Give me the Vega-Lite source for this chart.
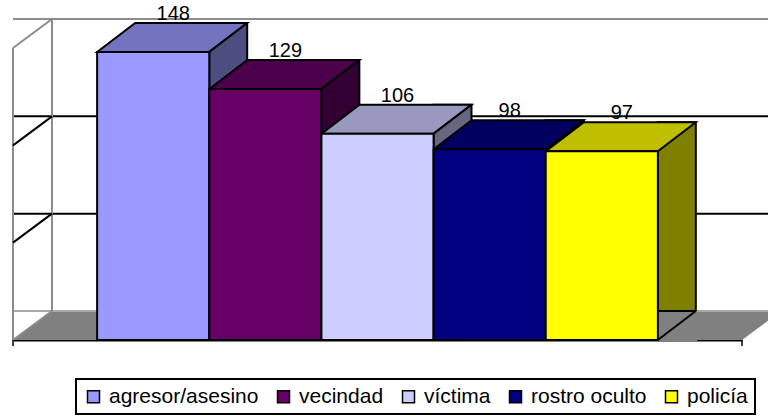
{
  "$schema": "https://vega.github.io/schema/vega-lite/v6.json",
  "width": 729,
  "height": 292,
  "autosize": {"type": "none"},
  "padding": {"left": 13, "top": 48, "right": 26, "bottom": 76},
  "background": "white",
  "config": {"view": {"stroke": null}, "font": "Liberation Sans", "legend": {"strokeWidth": 2}},
  "datasets": {
    "barras": [
      {"categoria": "agresor/asesino", "valor": 148},
      {"categoria": "vecindad", "valor": 129},
      {"categoria": "víctima", "valor": 106},
      {"categoria": "rostro oculto", "valor": 98},
      {"categoria": "policía", "valor": 97}
    ],
    "suelo": [{"v": 0}],
    "techo": [{"v": 150}],
    "bordes": [{"v": 0}, {"v": 150}],
    "rejilla": [{"v": 50}, {"v": 100}],
    "esquinas": [{"desde": 0, "hasta": 150}]
  },
  "resolve": {"scale": {"fill": "independent"}},
  "layer": [
    {
      "data": {"name": "suelo"},
      "mark": {"type": "point", "shape": "M0,0L39,-29L768,-29L729,0Z", "size": 4, "filled": true, "fill": "#808080", "strokeWidth": 0, "opacity": 1},
      "encoding": {
        "x": {"datum": "agresor/asesino", "type": "nominal", "bandPosition": -0.75,
              "scale": {"type": "band", "domain": ["agresor/asesino", "vecindad", "víctima", "rostro oculto", "policía"], "paddingInner": 0, "paddingOuter": 0.75},
              "axis": {"labels": false, "ticks": false, "title": null, "domainColor": "black", "domainWidth": 2}},
        "y": {"field": "v", "type": "quantitative", "scale": {"domain": [0, 150], "nice": false, "zero": true}, "axis": null}
      }
    },
    {
      "data": {"name": "suelo"},
      "mark": {"type": "rule", "color": "#A8A8A8", "strokeWidth": 2, "xOffset": 39, "x2Offset": 39, "yOffset": -29},
      "encoding": {"y": {"field": "v", "type": "quantitative"}}
    },
    {
      "data": {"name": "techo"},
      "mark": {"type": "rule", "color": "#8C8C8C", "strokeWidth": 2, "xOffset": 39, "x2Offset": 39, "yOffset": -29},
      "encoding": {"y": {"field": "v", "type": "quantitative"}}
    },
    {
      "data": {"name": "rejilla"},
      "mark": {"type": "rule", "color": "black", "strokeWidth": 2, "xOffset": 39, "x2Offset": 39, "yOffset": -29},
      "encoding": {"y": {"field": "v", "type": "quantitative"}}
    },
    {
      "data": {"name": "esquinas"},
      "mark": {"type": "rule", "color": "#8C8C8C", "strokeWidth": 2},
      "encoding": {
        "x": {"datum": "agresor/asesino", "type": "nominal", "bandPosition": -0.75},
        "y": {"field": "desde", "type": "quantitative"},
        "y2": {"field": "hasta"}
      }
    },
    {
      "data": {"name": "esquinas"},
      "mark": {"type": "rule", "color": "#8C8C8C", "strokeWidth": 2, "xOffset": 39, "yOffset": -29, "y2Offset": -29},
      "encoding": {
        "x": {"datum": "agresor/asesino", "type": "nominal", "bandPosition": -0.75},
        "y": {"field": "desde", "type": "quantitative"},
        "y2": {"field": "hasta"}
      }
    },
    {
      "data": {"name": "bordes"},
      "mark": {"type": "point", "shape": "M0,0L39,-29", "size": 4, "filled": false, "stroke": "#8C8C8C", "strokeWidth": 2, "opacity": 1},
      "encoding": {
        "x": {"datum": "agresor/asesino", "type": "nominal", "bandPosition": -0.75},
        "y": {"field": "v", "type": "quantitative"}
      }
    },
    {
      "data": {"name": "rejilla"},
      "mark": {"type": "point", "shape": "M0,0L39,-29", "size": 4, "filled": false, "stroke": "black", "strokeWidth": 2, "opacity": 1},
      "encoding": {
        "x": {"datum": "agresor/asesino", "type": "nominal", "bandPosition": -0.75},
        "y": {"field": "v", "type": "quantitative"}
      }
    },
    {
      "data": {"name": "suelo"},
      "mark": {"type": "rule", "color": "black", "strokeWidth": 1.5, "y2Offset": 6},
      "encoding": {
        "x": {"datum": "agresor/asesino", "type": "nominal", "bandPosition": -0.75},
        "y": {"field": "v", "type": "quantitative"},
        "y2": {"field": "v"}
      }
    },
    {
      "data": {"name": "suelo"},
      "mark": {"type": "rule", "color": "black", "strokeWidth": 1.5, "y2Offset": 6},
      "encoding": {
        "x": {"datum": "policía", "type": "nominal", "bandPosition": 1.75},
        "y": {"field": "v", "type": "quantitative"},
        "y2": {"field": "v"}
      }
    },
    {
      "data": {"name": "barras"},
      "mark": {"type": "bar", "width": 38, "xOffset": 75, "yOffset": -29, "stroke": "black", "strokeWidth": 2},
      "encoding": {
        "x": {"field": "categoria", "type": "nominal"},
        "y": {"field": "valor", "type": "quantitative"},
        "fill": {"field": "categoria", "type": "nominal", "legend": null,
                 "scale": {"domain": ["agresor/asesino", "vecindad", "víctima", "rostro oculto", "policía"], "range": ["#4D4D80", "#330033", "#666680", "#000040", "#808000"]}}
      }
    },
    {
      "data": {"name": "barras"},
      "mark": {"type": "point", "shape": "M56,0L94,-29L95.5,-29L95.5,1L56,1Z", "size": 4, "filled": true, "fill": "#808080", "strokeWidth": 0, "opacity": 1},
      "encoding": {
        "x": {"field": "categoria", "type": "nominal"},
        "y": {"datum": 0, "type": "quantitative"}
      }
    },
    {
      "data": {"name": "barras"},
      "mark": {"type": "point", "shape": "M56,0L94,-29", "size": 4, "filled": false, "stroke": "black", "strokeWidth": 2, "opacity": 1},
      "encoding": {
        "x": {"field": "categoria", "type": "nominal"},
        "y": {"datum": 0, "type": "quantitative"}
      }
    },
    {
      "data": {"name": "barras"},
      "mark": {"type": "point", "shape": "M-56,0L56,0L94,-29L-18,-29Z", "size": 4, "filled": true, "stroke": "black", "strokeWidth": 2, "opacity": 1},
      "encoding": {
        "x": {"field": "categoria", "type": "nominal"},
        "y": {"field": "valor", "type": "quantitative"},
        "fill": {"field": "categoria", "type": "nominal", "legend": null,
                 "scale": {"domain": ["agresor/asesino", "vecindad", "víctima", "rostro oculto", "policía"], "range": ["#7373BF", "#4C004C", "#9999BF", "#000060", "#BFBF00"]}}
      }
    },
    {
      "data": {"name": "barras"},
      "mark": {"type": "bar", "stroke": "black", "strokeWidth": 2},
      "encoding": {
        "x": {"field": "categoria", "type": "nominal"},
        "y": {"field": "valor", "type": "quantitative"},
        "fill": {"field": "categoria", "type": "nominal",
                 "scale": {"domain": ["agresor/asesino", "vecindad", "víctima", "rostro oculto", "policía"], "range": ["#9999FF", "#660066", "#CCCCFF", "#000080", "#FFFF00"]},
                 "legend": {"orient": "none", "legendX": 63, "legendY": 331, "direction": "horizontal", "title": null,
                            "symbolType": "square", "symbolSize": 144, "symbolStrokeColor": "black", "symbolStrokeWidth": 1.5,
                            "labelFontSize": 21, "labelFont": "Liberation Sans", "labelColor": "black", "labelLimit": 300,
                            "strokeColor": "black", "padding": 7, "columnPadding": 14, "labelOffset": 5}}
      }
    },
    {
      "data": {"name": "barras"},
      "mark": {"type": "text", "fontSize": 20, "color": "black", "align": "center", "baseline": "alphabetic", "xOffset": 20, "yOffset": -32},
      "encoding": {
        "x": {"field": "categoria", "type": "nominal"},
        "y": {"field": "valor", "type": "quantitative"},
        "text": {"field": "valor", "type": "quantitative"}
      }
    }
  ]
}
